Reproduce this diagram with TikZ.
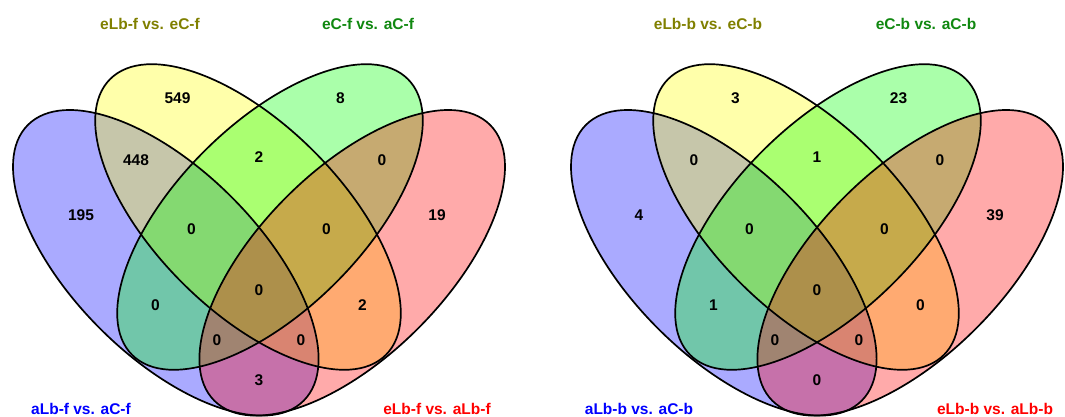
\documentclass[tikz,border=0pt]{standalone}
\usepackage{fontspec}
\setmainfont{Liberation Sans}
\definecolor{vblue}{RGB}{0,0,255}
\definecolor{vyellow}{RGB}{255,255,0}
\definecolor{vgreen}{RGB}{0,255,0}
\definecolor{vred}{RGB}{255,0,0}
\definecolor{tblue}{RGB}{0,0,255}
\definecolor{tolive}{RGB}{128,128,0}
\definecolor{tgreen}{RGB}{16,136,16}
\definecolor{tred}{RGB}{255,0,0}
\tikzset{
  setfill/.style={fill=#1, fill opacity=0.3333, draw=none},
  setline/.style={draw=black, line width=1.7pt, fill=none},
  num/.style={font=\bfseries\fontsize{15.5}{16}\selectfont, text=black, inner sep=0pt, anchor=center},
  cattitle/.style={font=\bfseries\fontsize{15.5}{16}\selectfont, inner sep=0pt, anchor=center, text=#1},
}
\newcommand{\vqellipses}[1]{%
  % #1 = x of symmetry axis
  \begin{scope}[shift={(#1-93.2,154.2)}, rotate=-45]
    \fill[setfill=vblue] (0,0) ellipse [x radius=195pt, y radius=93pt];
  \end{scope}
  \begin{scope}[shift={(#1-11,200)}, rotate=-45]
    \fill[setfill=vyellow] (0,0) ellipse [x radius=195pt, y radius=93pt];
  \end{scope}
  \begin{scope}[shift={(#1+11,200)}, rotate=45]
    \fill[setfill=vgreen] (0,0) ellipse [x radius=195pt, y radius=93pt];
  \end{scope}
  \begin{scope}[shift={(#1+93.2,154.2)}, rotate=45]
    \fill[setfill=vred] (0,0) ellipse [x radius=195pt, y radius=93pt];
  \end{scope}
  \begin{scope}[shift={(#1-93.2,154.2)}, rotate=-45]
    \draw[setline] (0,0) ellipse [x radius=195pt, y radius=93pt];
  \end{scope}
  \begin{scope}[shift={(#1-11,200)}, rotate=-45]
    \draw[setline] (0,0) ellipse [x radius=195pt, y radius=93pt];
  \end{scope}
  \begin{scope}[shift={(#1+11,200)}, rotate=45]
    \draw[setline] (0,0) ellipse [x radius=195pt, y radius=93pt];
  \end{scope}
  \begin{scope}[shift={(#1+93.2,154.2)}, rotate=45]
    \draw[setline] (0,0) ellipse [x radius=195pt, y radius=93pt];
  \end{scope}
}
\begin{document}
\begin{tikzpicture}[x=1pt,y=1pt]
\useasboundingbox (0,0) rectangle (1065,417);
\fill[white] (0,0) rectangle (1065,417);

% ---------- left diagram (axis x = 259) ----------
\vqellipses{259}
\node[cattitle=tolive] (fT1) at (259-109,393.5) {eLb-f vs. eC-f};
\node[cattitle=tgreen] (fT2) at (259+109,393.5) {eC-f vs. aC-f};
\node[cattitle=tblue]  (fT3) at (259-178,8) {aLb-f vs. aC-f};
\node[cattitle=tred]   (fT4) at (259+178,8) {eLb-f vs. aLb-f};
\node[num] (fB)    at (259-81.5,318.7) {549};
\node[num] (fC)    at (259+81.5,318.7) {8};
\node[num] (fAB)   at (259-123,256.5) {448};
\node[num] (fBC)   at (259,260.3) {2};
\node[num] (fCD)   at (259+123,256.5) {0};
\node[num] (fA)    at (259-178,202) {195};
\node[num] (fD)    at (259+178,202) {19};
\node[num] (fABC)  at (259-67.5,187.7) {0};
\node[num] (fBCD)  at (259+67.5,187.7) {0};
\node[num] (fABCD) at (259,126.5) {0};
\node[num] (fAC)   at (259-103.5,111.7) {0};
\node[num] (fBD)   at (259+103.5,111.7) {2};
\node[num] (fACD)  at (259-42,76.7) {0};
\node[num] (fABD)  at (259+42,76.7) {0};
\node[num] (fAD)   at (259,36.7) {3};

% ---------- right diagram (axis x = 817) ----------
\vqellipses{817}
\node[cattitle=tolive] (bT1) at (817-109,393.5) {eLb-b vs. eC-b};
\node[cattitle=tgreen] (bT2) at (817+109,393.5) {eC-b vs. aC-b};
\node[cattitle=tblue]  (bT3) at (817-178,8) {aLb-b vs. aC-b};
\node[cattitle=tred]   (bT4) at (817+178,8) {eLb-b vs. aLb-b};
\node[num] (bB)    at (817-81.5,318.7) {3};
\node[num] (bC)    at (817+81.5,318.7) {23};
\node[num] (bAB)   at (817-123,256.5) {0};
\node[num] (bBC)   at (817,260.3) {1};
\node[num] (bCD)   at (817+123,256.5) {0};
\node[num] (bA)    at (817-178,202) {4};
\node[num] (bD)    at (817+178,202) {39};
\node[num] (bABC)  at (817-67.5,187.7) {0};
\node[num] (bBCD)  at (817+67.5,187.7) {0};
\node[num] (bABCD) at (817,126.5) {0};
\node[num] (bAC)   at (817-103.5,111.7) {1};
\node[num] (bBD)   at (817+103.5,111.7) {0};
\node[num] (bACD)  at (817-42,76.7) {0};
\node[num] (bABD)  at (817+42,76.7) {0};
\node[num] (bAD)   at (817,36.7) {0};
\end{tikzpicture}
\end{document}
